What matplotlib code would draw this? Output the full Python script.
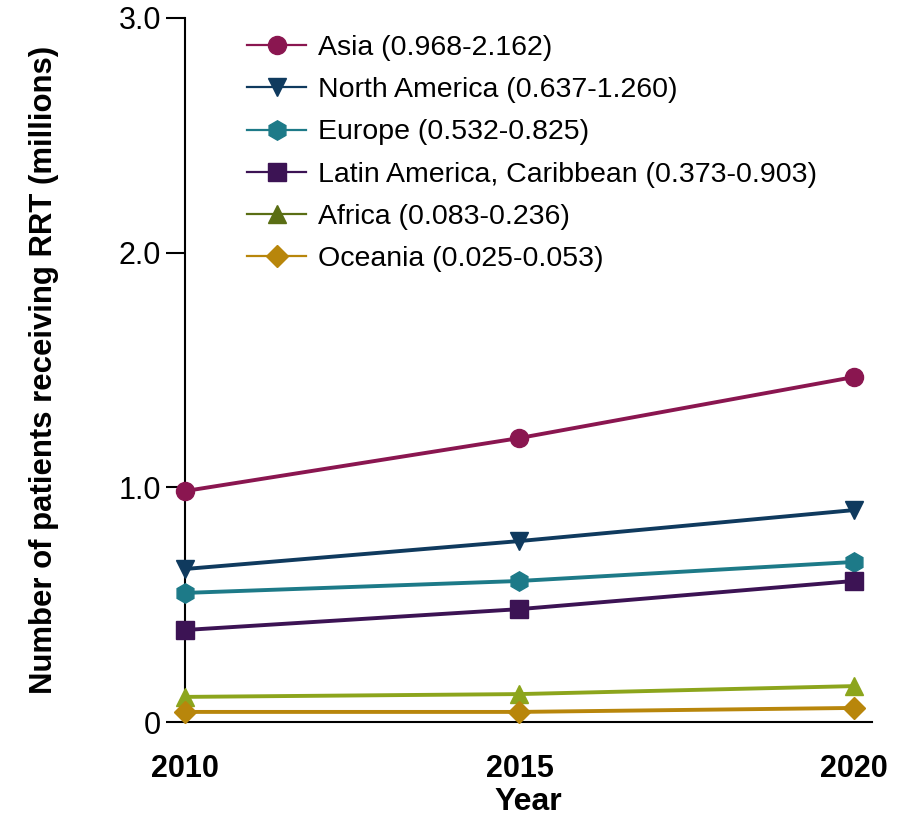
import matplotlib.pyplot as plt

plt.rcParams['font.family'] = ['Liberation Sans', 'DejaVu Sans']

years = [2010, 2015, 2020]
regions = ['Asia (0.968-2.162)', 'North America (0.637-1.260)', 'Europe (0.532-0.825)',
           'Latin America, Caribbean (0.373-0.903)', 'Africa (0.083-0.236)',
           'Oceania (0.025-0.053)']
asia = [0.984, 1.210, 1.470]
north_america = [0.652, 0.771, 0.903]
europe = [0.550, 0.601, 0.682]
latin_america = [0.392, 0.481, 0.601]
africa = [0.107, 0.119, 0.153]
oceania = [0.043, 0.043, 0.060]

series = [asia, north_america, europe, latin_america, africa, oceania]
colors = ['#8a1650', '#0f3a5e', '#1d7a88', '#3c1354', '#8ca51c', '#b8860b']
legend_colors = ['#8a1650', '#0f3a5e', '#1d7a88', '#3c1354', '#5a6e14', '#b8860b']
markers = ['o', 'v', 'h', 's', '^', 'D']
msizes = [13, 13, 14, 13, 13, 11]

fig = plt.figure(figsize=(9.17, 8.15), dpi=100)
ax = fig.add_axes([0.2017, 0.1141, 0.7493, 0.8639])

for vals, lab, c, m, ms in zip(series, regions, colors, markers, msizes):
    ax.plot(years, vals, color=c, lw=2.8, marker=m, ms=ms, mec=c, label=lab,
            clip_on=False, zorder=3)

ax.set_xlim(2010, 2020.27)
ax.set_ylim(0, 3.0)
ax.set_yticks([0, 1, 2, 3])
ax.set_yticklabels(['0', '1.0', '2.0', '3.0'])
ax.set_xticks(years)
ax.set_xticklabels([str(y) for y in years], fontweight='bold')

ax.spines['top'].set_visible(False)
ax.spines['right'].set_visible(False)
for s in ['left', 'bottom']:
    ax.spines[s].set_linewidth(1.5)
ax.tick_params(axis='y', direction='out', length=14, width=1.5, labelsize=22, pad=3)
ax.tick_params(axis='x', length=0, labelsize=22, pad=23)

ax.set_xlabel('Year', fontsize=23, fontweight='bold', labelpad=2)
ax.set_ylabel('Number of patients receiving RRT (millions)', fontsize=22.4,
              fontweight='bold', labelpad=43)

leg = ax.legend(loc='upper left', bbox_to_anchor=(0.065, 1.0), frameon=False,
                fontsize=20.5, handlelength=2.1, labelspacing=0.57, handletextpad=0.4,
                borderaxespad=0.2)
for h, c in zip(leg.legend_handles, legend_colors):
    h.set_linewidth(1.6)
    h.set_color(c)
    h.set_markerfacecolor(c)
    h.set_markeredgecolor(c)

fig.savefig('out.png', dpi=100)
